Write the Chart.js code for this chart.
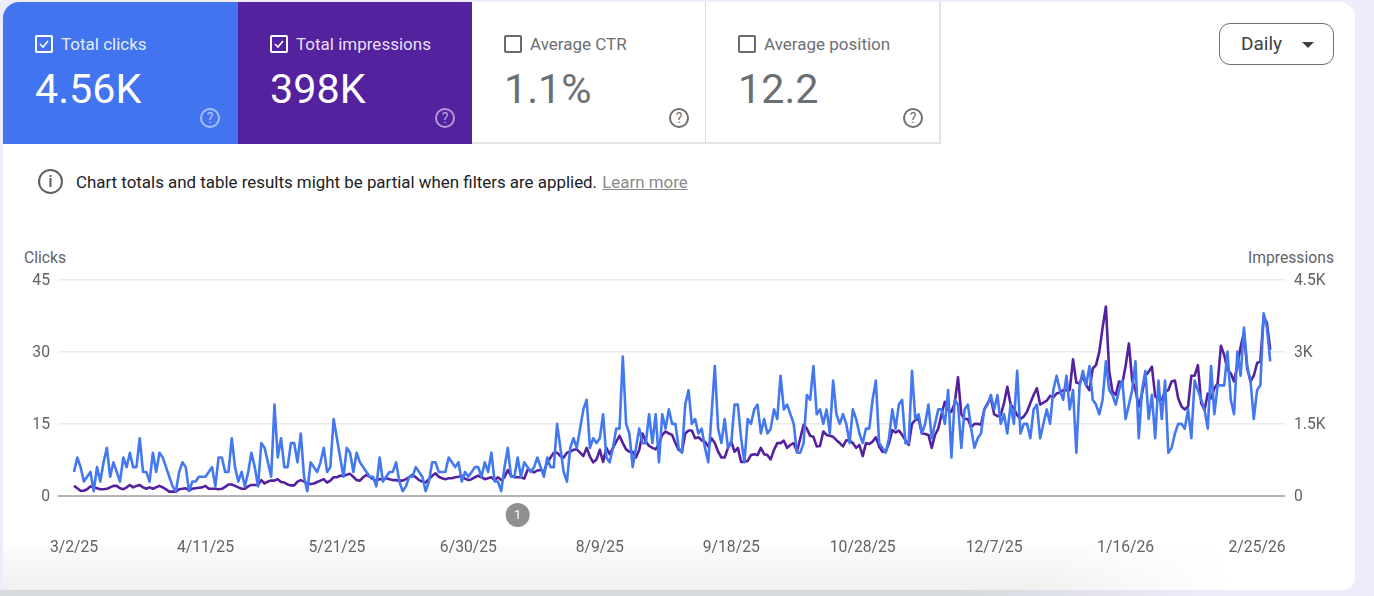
<!DOCTYPE html>
<html>
<head>
<meta charset="utf-8">
<title>Search performance</title>
<script src="https://cdn.jsdelivr.net/npm/chart.js@4"></script>
<style>
  html, body { margin: 0; width: 1374px; height: 596px; overflow: hidden; background: #eeecfa; font-family: Roboto, sans-serif; }
  .shade { position: absolute; left: 0; top: 590px; width: 1374px; height: 6px; background: linear-gradient(90deg, #d6dade 0, #d6dade 70%, #eeecfa 88%); }
  .card { position: absolute; left: 3px; top: 2px; width: 1352px; height: 588px; background: #fff; border-radius: 16px 16px 12px 12px; overflow: hidden; }
  .fade { position: absolute; left: 0; top: 543px; width: 1230px; height: 45px; background: linear-gradient(180deg, #fbfbfb 0, #f7f7f7 40%, #f0f0f0 100%); -webkit-mask-image: linear-gradient(90deg, #000 84%, transparent 100%); mask-image: linear-gradient(90deg, #000 84%, transparent 100%); }
  .tile { position: absolute; top: 0; width: 234px; height: 142px; box-sizing: border-box; color: #6b6f73; }
  .tile.on { color: #fff; }
  .blue { left: 0; width: 235px; background: #4274f0; }
  .purple { left: 235px; background: #54219f; }
  .ctr { left: 469px; border-right: 1px solid #dcdcdc; border-bottom: 2px solid #e4e4e4; }
  .pos { left: 703px; width: 235px; border-right: 2px solid #e4e4e4; border-bottom: 2px solid #e4e4e4; }
  .box { position: absolute; left: 32px; top: 33px; width: 14px; height: 14px; border: 2px solid #6a6a6a; border-radius: 2px; }
  .on .box { border-color: #fff; }
  .box svg { position: absolute; left: 0; top: 0; }
  .name { position: absolute; left: 58px; top: 32px; font-size: 17px; line-height: 20px; white-space: nowrap; }
  .on .name { color: rgba(255,255,255,.88); }
  .val { position: absolute; left: 32px; top: 60px; font-size: 41.3px; line-height: 54px; white-space: nowrap; }
  .help { position: absolute; left: 197px; top: 106px; width: 16px; height: 16px; border: 2px solid #6f6f6f; border-radius: 50%; font-size: 14px; line-height: 16px; text-align: center; }
  .on .help { border-color: rgba(255,255,255,.55); color: rgba(255,255,255,.6); }
  .note { position: absolute; left: 76px; top: 172px; font-size: 16.9px; line-height: 20px; color: #202124; white-space: nowrap; }
  .note a { color: #8a8a8a; text-decoration: underline; margin-left: 1px; }
  .info { position: absolute; left: 38px; top: 169px; width: 21px; height: 21px; border: 2px solid #5f5f5f; border-radius: 50%; font-size: 17px; font-weight: 500; line-height: 21px; text-align: center; color: #5f5f5f; }
  .daily { position: absolute; left: 1219px; top: 23px; width: 113px; height: 40px; border: 1.5px solid #6f6f6f; border-radius: 11px; background: #fff; }
  .daily span { position: absolute; left: 21px; top: 9px; font-size: 19px; line-height: 22px; color: #3c4043; }
  .daily i { position: absolute; left: 82px; top: 18px; border-left: 6px solid transparent; border-right: 6px solid transparent; border-top: 6px solid #3c4043; }
  .ax { position: absolute; top: 249px; font-size: 15.7px; line-height: 18px; color: #5f6368; }
  canvas { position: absolute; left: 0; top: 240px; }
</style>
</head>
<body>
<div class="shade"></div>
<div class="card">
  <div class="fade"></div>
  <div class="tile on blue">
    <div class="box"><svg width="14" height="14"><path d="M3 7l3 3 5-6" fill="none" stroke="#fff" stroke-width="1.6"/></svg></div>
    <div class="name">Total clicks</div><div class="val">4.56K</div><div class="help">?</div>
  </div>
  <div class="tile on purple">
    <div class="box"><svg width="14" height="14"><path d="M3 7l3 3 5-6" fill="none" stroke="#fff" stroke-width="1.6"/></svg></div>
    <div class="name">Total impressions</div><div class="val">398K</div><div class="help">?</div>
  </div>
  <div class="tile ctr">
    <div class="box"></div><div class="name">Average CTR</div><div class="val">1.1%</div><div class="help">?</div>
  </div>
  <div class="tile pos">
    <div class="box"></div><div class="name">Average position</div><div class="val">12.2</div><div class="help">?</div>
  </div>
</div>
<div class="info">i</div>
<div class="note">Chart totals and table results might be partial when filters are applied. <a>Learn more</a></div>
<div class="daily"><span>Daily</span><i></i></div>
<div class="ax" style="left:24px">Clicks</div>
<div class="ax" style="right:40px">Impressions</div>
<canvas id="myChart" width="1374" height="330"></canvas>
<script>
// one value per day, 3/2/25 to 3/1/26
const clicks = [
  5,8,6,3,4,5,1,6,3,7,10,4,7,5,3,8,6,9,6,6,12,5,5,3,9,5,9,8,6,4,
  2,1,5,7,6,1,3,3,4,4,4,5,6,2,8,8,5,5,12,6,3,5,2,5,9,6,2,11,10,7,
  4,19,8,12,6,6,11,11,7,13,4,1,7,6,5,7,10,5,6,16,12,8,4,10,9,5,9,7,6,5,
  4,4,2,8,3,4,5,5,7,3,1,2,4,4,6,5,4,1,3,7,7,5,5,5,8,7,6,7,3,5,
  4,5,6,6,4,7,5,9,3,3,1,6,10,4,4,8,4,7,6,5,6,8,6,4,8,6,6,15,10,5,
  3,10,12,10,14,18,20,10,12,11,12,17,8,7,10,14,14,29,15,13,6,10,14,11,11,17,11,17,7,17,
  14,18,15,15,10,9,19,22,15,16,13,14,10,7,17,27,14,11,16,10,11,19,19,12,7,16,15,18,19,13,
  16,13,14,18,16,25,18,19,17,15,9,9,11,21,20,27,17,18,15,18,13,24,17,15,17,15,11,18,16,13,
  11,14,14,20,24,11,10,9,12,18,14,19,20,11,11,26,16,17,13,15,19,12,15,18,18,15,22,8,20,19,
  10,18,19,14,10,12,13,18,19,21,18,21,15,17,13,19,15,26,13,15,15,
  12,18,19,12,15,18,15,22,25,22,20,25,18,22,9,23,26,23,27,20,19,17,20,28,22,21,19,22,24,16,
  19,22,28,12,22,26,16,21,12,24,16,24,9,10,13,15,15,14,18,12,24,22,20,18,14,27,17,23,23,23,
  30,20,17,30,25,35,27,24,16,22,23,38,35,28
];
const impressions = [
  210,160,110,110,140,200,180,160,140,140,150,180,210,210,160,140,180,230,180,210,
  230,180,150,180,150,180,210,180,140,90,90,90,140,150,160,120,150,160,170,180,
  210,150,150,150,140,150,190,240,240,210,180,150,150,200,230,230,230,330,260,300,
  320,320,350,290,280,240,220,220,300,330,300,250,250,260,290,320,350,280,320,390,
  390,420,420,440,460,400,330,320,390,440,400,350,320,350,350,370,350,330,330,320,
  320,350,390,440,390,330,300,280,350,420,470,400,370,350,370,370,390,400,420,360,
  330,350,390,420,390,350,370,390,330,390,330,390,540,420,390,390,390,360,540,540,
  490,530,540,500,700,800,900,900,830,800,900,920,960,970,900,830,1000,820,700,760,
  960,710,1000,870,1000,1130,1250,1100,970,920,920,800,960,1300,1130,1040,1000,970,1080,1270,
  1340,1300,1270,1100,960,920,1300,1360,1360,1200,1220,1160,1130,1030,1200,1100,920,800,800,1000,
  1130,920,1000,710,710,730,850,870,850,1000,870,850,760,960,1100,1100,1150,1000,1060,1100,
  920,1200,1480,1400,1250,1230,1030,1040,1340,1270,1250,1230,1160,1100,1030,1160,1150,1100,1000,1060,
  830,1100,1080,1130,1220,1030,920,920,1100,1370,1320,1360,1270,1160,1060,1500,1580,1600,1300,1290,
  1270,1000,1270,1400,1700,1960,1790,1750,1930,2470,1700,1600,1600,1430,1500,1500,1480,1800,1930,2030,
  1700,1660,1680,1930,2270,1900,1820,1680,1600,1650,1750,
  1930,2100,2240,1900,1940,1980,2080,2050,2130,2150,2200,2200,2200,2840,2360,2340,2500,2300,2200,2650,
  2720,3000,3500,3940,2600,2170,2100,2380,2340,2700,3170,2400,2200,1860,2130,2500,2580,2690,2070,2000,
  2000,2170,2200,2380,2400,2030,1860,1800,1860,2500,2500,2720,1930,1790,2130,2030,2240,2340,3120,2930,
  2620,2550,2380,2720,3100,3400,2650,2380,2500,2760,2800,3730,3600,3040
];
const dayTicks = [0, 40, 80, 120, 160, 200, 240, 280, 320, 360];
const dateLabels = ['3/2/25', '4/11/25', '5/21/25', '6/30/25', '8/9/25', '9/18/25', '10/28/25', '12/7/25', '1/16/26', '2/25/26'];
const clickTicks = [0, 15, 30, 45];
const impressionTicks = [0, 1500, 3000, 4500];
const impressionLabels = ['0', '1.5K', '3K', '4.5K'];
const annotationDay = 135;

const annotationMark = {
    id: 'annotationMark',
    afterDraw(chart) {
        const c = chart.ctx;
        const x = chart.scales.x.getPixelForValue(annotationDay);
        const y = chart.chartArea.bottom + 19;
        c.save();
        c.beginPath();
        c.arc(x, y, 12, 0, Math.PI * 2);
        c.fillStyle = '#8f8f8f';
        c.fill();
        c.fillStyle = '#fff';
        c.font = '13px Roboto';
        c.textAlign = 'center';
        c.textBaseline = 'middle';
        c.fillText('1', x, y + 0.5);
        c.restore();
    }
};

const axisFont = { family: 'Roboto', size: 15.7 };

new Chart(document.getElementById('myChart').getContext('2d'), {
    type: 'line',
    data: {
        datasets: [{
            label: 'Clicks',
            data: clicks.map((v, i) => ({ x: i, y: v })),
            yAxisID: 'y',
            borderColor: '#4478f0',
            borderWidth: 2.6
        }, {
            label: 'Impressions',
            data: impressions.map((v, i) => ({ x: i, y: v })),
            yAxisID: 'y1',
            borderColor: '#54219f',
            borderWidth: 2.6
        }]
    },
    options: {
        responsive: false,
        animation: false,
        layout: { padding: { top: 39.5 } },
        elements: { point: { radius: 0 }, line: { tension: 0, borderJoinStyle: 'round' } },
        plugins: { legend: { display: false }, tooltip: { enabled: false } },
        scales: {
            x: {
                type: 'linear',
                min: -4.87,
                max: 368.5,
                afterBuildTicks: s => { s.ticks = dayTicks.map(v => ({ value: v })); },
                afterFit: s => { s.height = 74; },
                grid: { display: false },
                border: { display: false },
                ticks: {
                    font: axisFont,
                    color: '#5f6368',
                    padding: 35,
                    maxRotation: 0,
                    autoSkip: false,
                    callback: v => dateLabels[dayTicks.indexOf(v)]
                }
            },
            y: {
                min: 0,
                max: 45,
                afterBuildTicks: s => { s.ticks = clickTicks.map(v => ({ value: v })); },
                afterFit: s => { s.width = 58; },
                border: { display: false },
                grid: {
                    drawTicks: false,
                    lineWidth: c => c.tick.value === 0 ? 2 : 1.5,
                    color: c => c.tick.value === 0 ? '#b4b4b4' : '#ececec'
                },
                ticks: { font: axisFont, color: '#5f6368', padding: 8, labelOffset: 1.5 }
            },
            y1: {
                position: 'right',
                min: 0,
                max: 4500,
                afterBuildTicks: s => { s.ticks = impressionTicks.map(v => ({ value: v })); },
                afterFit: s => { s.width = 89; },
                border: { display: false },
                grid: { display: false },
                ticks: {
                    font: axisFont,
                    color: '#5f6368',
                    padding: 1,
                    labelOffset: 1.5,
                    callback: v => impressionLabels[impressionTicks.indexOf(v)]
                }
            }
        }
    },
    plugins: [annotationMark]
});
</script>
</body>
</html>
